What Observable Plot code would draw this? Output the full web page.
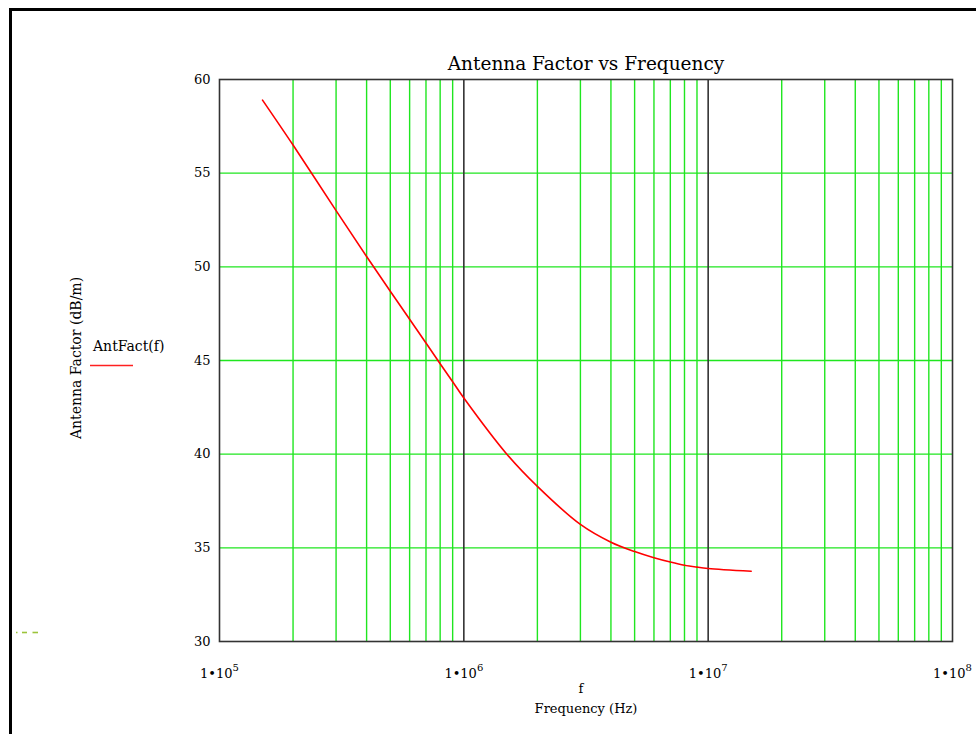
<!DOCTYPE html>
<html><head><meta charset="utf-8">
<script src="https://cdn.jsdelivr.net/npm/d3@7"></script>
<script src="https://cdn.jsdelivr.net/npm/@observablehq/plot@0.6"></script>
<style>
html,body{margin:0;padding:0;background:#fff;}
#chart{position:relative;width:976px;height:734px;overflow:hidden;}
</style></head><body><div id="chart"></div>
<script>
// ---- data ----
const frequencyHz   = [1.5e5, 2e5, 3e5, 4e5, 5e5, 6e5, 7e5, 8e5, 9e5, 1e6, 1.5e6, 2e6, 3e6, 4e6, 5e6, 6e6, 7e6, 8e6, 9e6, 1e7, 1.5e7];
const antennaFactor = [58.9, 56.5, 53.0, 50.55, 48.7, 47.2, 45.93, 44.83, 43.87, 43.0, 40.0, 38.28, 36.25, 35.3, 34.8, 34.47, 34.24, 34.07, 33.97, 33.9, 33.75];
const xTicks = [1e5, 1e6, 1e7, 1e8];
const xTickLabels = ["1•10^5", "1•10^6", "1•10^7", "1•10^8"];
const yTicks = [30, 35, 40, 45, 50, 55, 60];
const yGrid = [35, 40, 45, 50, 55];
const decadeLines = [1e6, 1e7];
const minorMultipliers = [2, 3, 4, 5, 6, 7, 8, 9];
const decadeStarts = [1e5, 1e6, 1e7];
const xGrid = decadeStarts.flatMap(d => minorMultipliers.map(m => d * m));
const titleText = "Antenna Factor vs Frequency";
const seriesName = "AntFact(f)";
const xLabelVar = "f";
const xLabelText = "Frequency (Hz)";
const yLabelText = "Antenna Factor (dB/m)";

const data = frequencyHz.map((f, i) => ({f, af: antennaFactor[i]}));

const GREEN = "#1fe61f";
const SERIF = "'DejaVu Serif', 'Liberation Serif', serif";

const plot = Plot.plot({
  width: 976, height: 734,
  marginLeft: 219, marginRight: 24, marginTop: 79, marginBottom: 93,
  style: {fontFamily: SERIF, fontSize: "13px", background: "transparent", color: "#000"},
  x: {type: "log", domain: [1e5, 1e8]},
  y: {domain: [30, 60]},
  marks: [
    Plot.ruleX(xGrid, {stroke: GREEN, strokeWidth: 1.4}),
    Plot.ruleY(yGrid, {stroke: GREEN, strokeWidth: 1.4}),
    Plot.ruleX(decadeLines, {stroke: "#333", strokeWidth: 1.6}),
    Plot.line(data, {x: "f", y: "af", stroke: "#ff0000", strokeWidth: 1.6, curve: "catmull-rom"}),
    Plot.frame({stroke: "#333", strokeWidth: 1.6}),
    Plot.axisX({ticks: xTicks, tickSize: 0, tickPadding: 27, label: null,
      tickFormat: d => xTickLabels[xTicks.indexOf(d)], fontSize: 13}),
    Plot.axisY({ticks: yTicks, tickSize: 0, tickPadding: 9, label: null,
      tickFormat: d => String(d), fontSize: 13})
  ]
});
document.getElementById("chart").appendChild(plot);

const svg = d3.select(plot);

// superscript exponents on x tick labels
svg.selectAll('g[aria-label="x-axis tick label"] text').each(function() {
  const t = d3.select(this);
  const s = this.textContent;
  if (!s.includes("^")) return;
  const [base, exp] = s.split("^");
  t.text(null);
  t.append("tspan").text(base);
  t.append("tspan").attr("dy", "-0.7em").attr("font-size", "10px").text(exp);
});

// outer frame (left + top)
svg.append("path").attr("d", "M10.5,734V9.5H976").attr("fill", "none")
  .attr("stroke", "#000").attr("stroke-width", 3);

const addText = (x, y, txt, size, anchor = "middle", transform = null) => {
  const t = svg.append("text").attr("text-anchor", anchor)
    .attr("font-family", SERIF).attr("font-size", size).attr("fill", "#000").text(txt);
  if (transform) t.attr("transform", transform); else t.attr("x", x).attr("y", y);
  return t;
};

// title
addText(586, 70, titleText, 18.5);
// x labels
addText(581, 693, xLabelVar, 13);
addText(586, 713, xLabelText, 13);
// y label
addText(0, 0, yLabelText, 14, "middle", "translate(81,358) rotate(-90)");
// legend
addText(93, 351, seriesName, 14, "start");
svg.append("line").attr("x1", 90).attr("x2", 133).attr("y1", 365.5).attr("y2", 365.5)
  .attr("stroke", "#ff2020").attr("stroke-width", 1.6);

// small olive dashes at lower left
[[16, 17.5], [22, 27], [32.5, 38]].forEach(([a, b]) => {
  svg.append("line").attr("x1", a).attr("x2", b).attr("y1", 632.5).attr("y2", 632.5)
    .attr("stroke", "#9cc43a").attr("stroke-width", 1.6);
});
</script></body></html>
